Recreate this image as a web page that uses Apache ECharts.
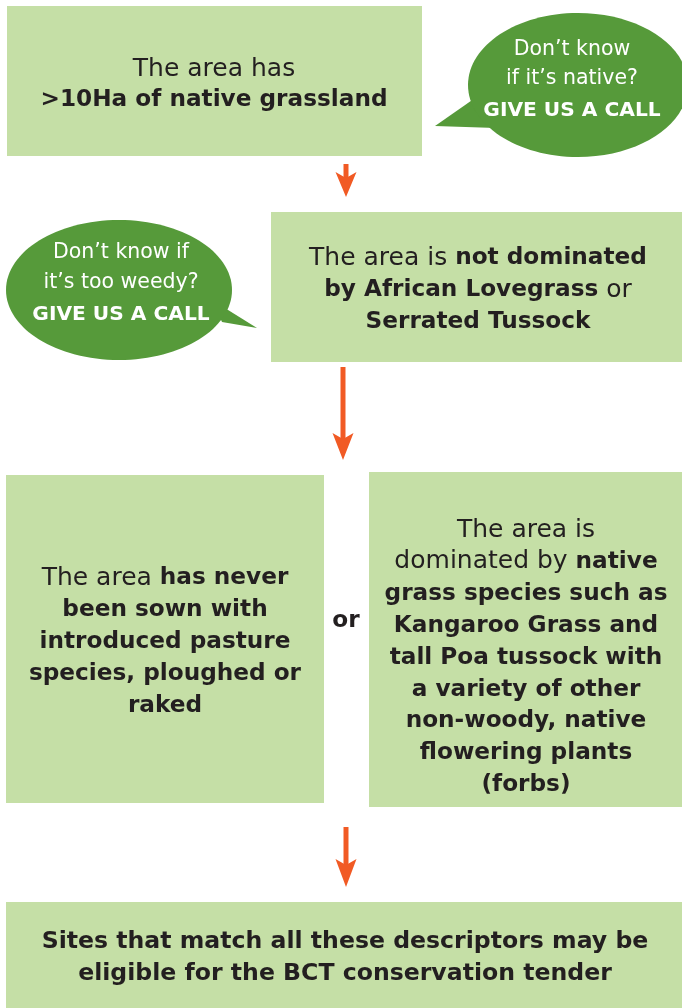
<!DOCTYPE html>
<html><head><meta charset="utf-8">
<script src="https://cdn.jsdelivr.net/npm/echarts@6/dist/echarts.min.js"></script>
<style>html,body{margin:0;padding:0;background:#fff}#c{width:682px;height:1008px}</style>
</head><body><div id="c"></div>
<script>
// ---- content (text lines, **bold** markup) ----
const box1Lines = ['The area has', '**>10Ha of native grassland**'];
const box2Lines = ['The area is **not dominated**', '**by African Lovegrass** or', '**Serrated Tussock**'];
const box3Lines = ['The area **has never**', '**been sown with**', '**introduced pasture**', '**species, ploughed or**', '**raked**'];
const box4Lines = ['The area is', 'dominated by **native**', '**grass species such as**', '**Kangaroo Grass and**', '**tall Poa tussock with**', '**a variety of other**', '**non-woody, native**', '**flowering plants**', '**(forbs)**'];
const box5Lines = ['**Sites that match all these descriptors may be**', '**eligible for the BCT conservation tender**'];
const bubble1Lines = ['Don\u2019t know', 'if it\u2019s native?', '**GIVE US A CALL**'];
const bubble2Lines = ['Don\u2019t know if', 'it\u2019s too weedy?', '**GIVE US A CALL**'];
const connectorWord = ['**or**'];

// ---- layout & style ----
const C = { box: '#c5dfa6', bubble: '#569a3a', arrow: '#f15a24', ink: '#231f20', white: '#ffffff' };
const FONT = '"DejaVu Sans", sans-serif';

function parse(line) {
  const parts = line.split('**');
  let s = '';
  parts.forEach((p, i) => { if (p) s += '{' + (i % 2 ? 'b' : 'n') + '|' + p.replace(/[{}|]/g, '') + '}'; });
  return s;
}
function textBlock(lines, cx, y0, dy, color, bSize, nSize) {
  return lines.map((ln, i) => ({
    type: 'text', x: cx, y: y0 + i * dy, z: 10,
    style: {
      text: parse(ln), align: 'center', verticalAlign: 'middle',
      rich: {
        n: { fontFamily: FONT, fontSize: nSize, fontWeight: 'normal', fill: color, align: 'center', verticalAlign: 'middle' },
        b: { fontFamily: FONT, fontSize: bSize, fontWeight: 'bold', fill: color, align: 'center', verticalAlign: 'middle' }
      }
    }
  }));
}
function rect(x, y, w, h) { return { type: 'rect', shape: { x, y, width: w, height: h }, style: { fill: C.box } }; }
function arrow(x, y1, y2, head) {
  return [
    { type: 'line', shape: { x1: x, y1: y1, x2: x, y2: y2 - head + 8 }, style: { stroke: C.arrow, lineWidth: 5 } },
    { type: 'polygon', shape: { points: [[x - 10.5, y2 - head], [x, y2 - head + 6], [x + 10.5, y2 - head], [x, y2]] }, style: { fill: C.arrow } }
  ];
}
function bubble(cx, cy, rx, ry, tail) {
  return [
    { type: 'polygon', shape: { points: tail }, style: { fill: C.bubble } },
    { type: 'ellipse', shape: { cx, cy, rx, ry }, style: { fill: C.bubble } }
  ];
}

const els = [].concat(
  rect(7, 6, 415, 150),
  textBlock(box1Lines, 214, 69, 31, C.ink, 23.2, 25),
  bubble(578, 85, 110, 72, [[478, 96], [496, 128], [435, 126]]),
  textBlock(bubble1Lines, 572, 50, 29, C.white, 20.2, 20.5).map((e, i) => { if (i === 2) e.y = 111; return e; }),
  arrow(346, 164, 197, 25),
  rect(271, 212, 411, 150),
  textBlock(box2Lines, 478, 258, 32, C.ink, 23.2, 25),
  bubble(119, 290, 113, 70, [[212, 300], [222, 322], [257, 328]]),
  textBlock(bubble2Lines, 121, 253, 30, C.white, 20.2, 20.5).map((e, i) => { if (i === 2) e.y = 315; return e; }),
  arrow(343, 367, 460, 27),
  rect(6, 475, 318, 328),
  textBlock(box3Lines, 165, 578, 32, C.ink, 23.2, 25),
  textBlock(connectorWord, 346, 621, 32, C.ink, 23.2, 25),
  rect(369, 472, 313, 335),
  textBlock(box4Lines, 526, 530, 31.9, C.ink, 23.2, 25),
  arrow(346, 827, 887, 28),
  rect(6, 902, 676, 106),
  textBlock(box5Lines, 345, 942, 32, C.ink, 23.6, 25)
);

const chart = echarts.init(document.getElementById('c'), null, { renderer: 'canvas' });
chart.setOption({ backgroundColor: '#ffffff', animation: false, graphic: { elements: els } });
</script></body></html>
